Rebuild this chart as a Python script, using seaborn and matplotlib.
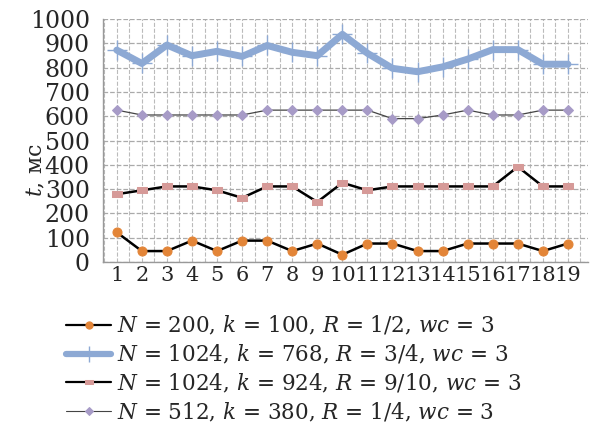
import matplotlib
matplotlib.use("Agg")
import matplotlib.pyplot as plt
import seaborn as sns
import numpy as np

sns.set_style("white")
plt.rcParams['font.family'] = ['DejaVu Serif']
plt.rcParams['mathtext.fontset'] = 'dejavuserif'

# номера опытов
x = list(range(1, 20))

# время, мс
t_200 = [122, 45, 45, 88, 45, 88, 88, 45, 76, 30, 76, 76, 45, 45, 76, 76, 76, 45, 76]
t_1024_768 = [872, 817, 893, 849, 867, 846, 891, 863, 849, 937, 859, 797, 783, 803, 835, 874, 874, 814, 814]
t_1024_924 = [279, 295, 311, 311, 295, 264, 311, 311, 247, 326, 295, 311, 311, 311, 311, 311, 392, 311, 311]
t_512 = [625, 605, 605, 605, 605, 605, 625, 625, 625, 625, 625, 590, 590, 605, 625, 605, 605, 625, 625]

labels = [
    "$N$ = 200, $k$ = 100, $R$ = 1/2, $wc$ = 3",
    "$N$ = 1024, $k$ = 768, $R$ = 3/4, $wc$ = 3",
    "$N$ = 1024, $k$ = 924, $R$ = 9/10, $wc$ = 3",
    "$N$ = 512, $k$ = 380, $R$ = 1/4, $wc$ = 3",
]

fig = plt.figure(figsize=(5.91, 4.32), dpi=100)
ax = fig.add_axes([103/591, 1 - 262/432, 485/591, 243/432])

rect = [(-1, -0.6), (1, -0.6), (1, 0.6), (-1, 0.6), (-1, -0.6)]

sns.lineplot(x=x, y=t_200, ax=ax, color="black", lw=1.8, marker="o",
             markersize=6.5, markerfacecolor="#E38538", markeredgecolor="#E38538",
             label=labels[0], zorder=4)
sns.lineplot(x=x, y=t_1024_768, ax=ax, color="#8DA9D4", lw=5, marker="+",
             markersize=14, markeredgewidth=1, markeredgecolor="#8DA9D4",
             label=labels[1], zorder=3)
sns.lineplot(x=x, y=t_1024_924, ax=ax, color="black", lw=1.8, marker=rect,
             markersize=6.5, markerfacecolor="#D69A98", markeredgecolor="#D69A98",
             label=labels[2], zorder=4)
sns.lineplot(x=x, y=t_512, ax=ax, color="#444444", lw=0.9, marker="D",
             markersize=5.5, markerfacecolor="#A79BC7", markeredgecolor="#A79BC7",
             label=labels[3], zorder=4)

ax.set_xlim(0.45, 19.8)
ax.set_ylim(0, 1000)
ax.set_yticks(np.arange(0, 1001, 100))
ax.set_xticks(x)
ax.set_xticks(np.arange(0.5, 20, 0.5), minor=True)

# сетка
ax.grid(True, which="major", axis="y", ls="--", color="#AAAAAA", lw=0.9)
ax.grid(True, which="both", axis="x", ls="--", color="#BBBBBB", lw=0.8)
ax.set_axisbelow(True)

for s in ["top", "right"]:
    ax.spines[s].set_visible(False)
for s in ["left", "bottom"]:
    ax.spines[s].set_color("#999999")
    ax.spines[s].set_linewidth(1)

ax.tick_params(axis="y", labelsize=17, length=4.5, color="#999999", pad=5)
ax.tick_params(axis="x", which="major", labelsize=15, length=0, pad=3)
ax.tick_params(axis="x", which="minor", length=3, color="#999999")

ax.set_xlabel("")
ax.set_ylabel("$t$, мс", fontsize=16)
ax.yaxis.set_label_coords(-0.115, 0.38)

ax.legend_.remove()
h, l = ax.get_legend_handles_labels()
leg = fig.legend(h, l, loc="upper left", bbox_to_anchor=(66/591, 1 - 314/432),
                 frameon=False, fontsize=15.5, handlelength=2.1, handletextpad=0.25,
                 labelspacing=0.27, borderpad=0, borderaxespad=0, markerscale=0.8)
# в легенде линии немного тоньше
for hnd, w in zip(leg.legend_handles, [1.6, 4.5, 1.6, 0.8]):
    hnd.set_linewidth(w)

fig.savefig("out.png", dpi=100)
